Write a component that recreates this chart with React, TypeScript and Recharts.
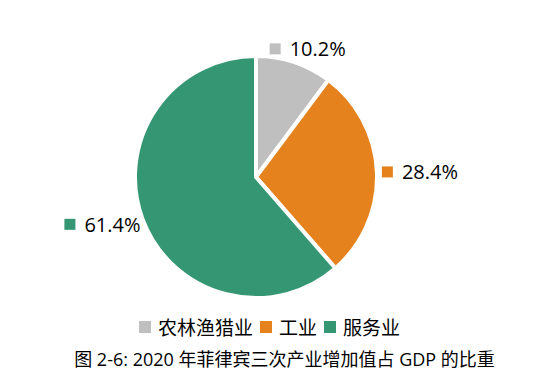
import { PieChart, Pie, Cell } from "recharts"

const sectors = ["农林渔猎业", "工业", "服务业"]
const shares = [10.2, 28.4, 61.4]
const colors = ["#bfbfbf", "#e6821e", "#359673"]
const title = "图 2-6: 2020 年菲律宾三次产业增加值占 GDP 的比重"

const data = sectors.map((name, i) => ({ name, value: shares[i] }))

const FONT = "'Open Sans', 'Noto Sans CJK SC', sans-serif"
const RAD = Math.PI / 180

const renderLabel = (props: any) => {
  const { cx, cy, midAngle, outerRadius, index } = props
  const cos = Math.cos(-midAngle * RAD)
  const sin = Math.sin(-midAngle * RAD)
  const r = outerRadius + 5
  const px = cx + r * cos
  const py = cy + r * sin
  const w = 76
  const h = 18
  const bx = px + (w / 2) * cos - w / 2
  const by = py + (h / 2) * sin
  return (
    <g>
      <rect x={bx} y={by - 5.5} width={11} height={11} fill={colors[index]} />
      <text
        x={bx + 20}
        y={by}
        dominantBaseline="central"
        fontSize={20}
        fontFamily={FONT}
        fill="#000"
      >
        {shares[index].toFixed(1)}%
      </text>
    </g>
  )
}

export default function App() {
  return (
    <div style={{ position: "relative", width: 546, height: 386, margin: -8, background: "#fff" }}>
      <PieChart width={546} height={386} margin={{ top: 0, right: 0, bottom: 0, left: 0 }}>
        <Pie
          data={data}
          dataKey="value"
          nameKey="name"
          cx={256}
          cy={177}
          outerRadius={121}
          startAngle={90}
          endAngle={-270}
          stroke="#fff"
          strokeWidth={4}
          label={renderLabel}
          labelLine={false}
          isAnimationActive={false}
        >
          {data.map((d, i) => (
            <Cell key={d.name} fill={colors[i]} />
          ))}
        </Pie>
      </PieChart>
      <div
        style={{
          position: "absolute",
          top: 313,
          left: 0,
          width: 546,
          display: "flex",
          justifyContent: "center",
          alignItems: "center",
          fontFamily: FONT,
          fontSize: 19,
          color: "#000",
          paddingLeft: 0,
          boxSizing: "border-box",
        }}
      >
        {sectors.map((s, i) => (
          <span key={s} style={{ display: "flex", alignItems: "center", marginRight: 7 }}>
            <span
              style={{
                display: "inline-block",
                width: 12,
                height: 12,
                background: colors[i],
                marginRight: 7,
              }}
            />
            {s}
          </span>
        ))}
      </div>
      <div
        style={{
          position: "absolute",
          top: 345,
          left: 0,
          width: 546,
          textAlign: "center",
          fontFamily: FONT,
          fontSize: 18,
          color: "#000",
          paddingLeft: 23,
          boxSizing: "border-box",
        }}
      >
        {title}
      </div>
    </div>
  )
}
